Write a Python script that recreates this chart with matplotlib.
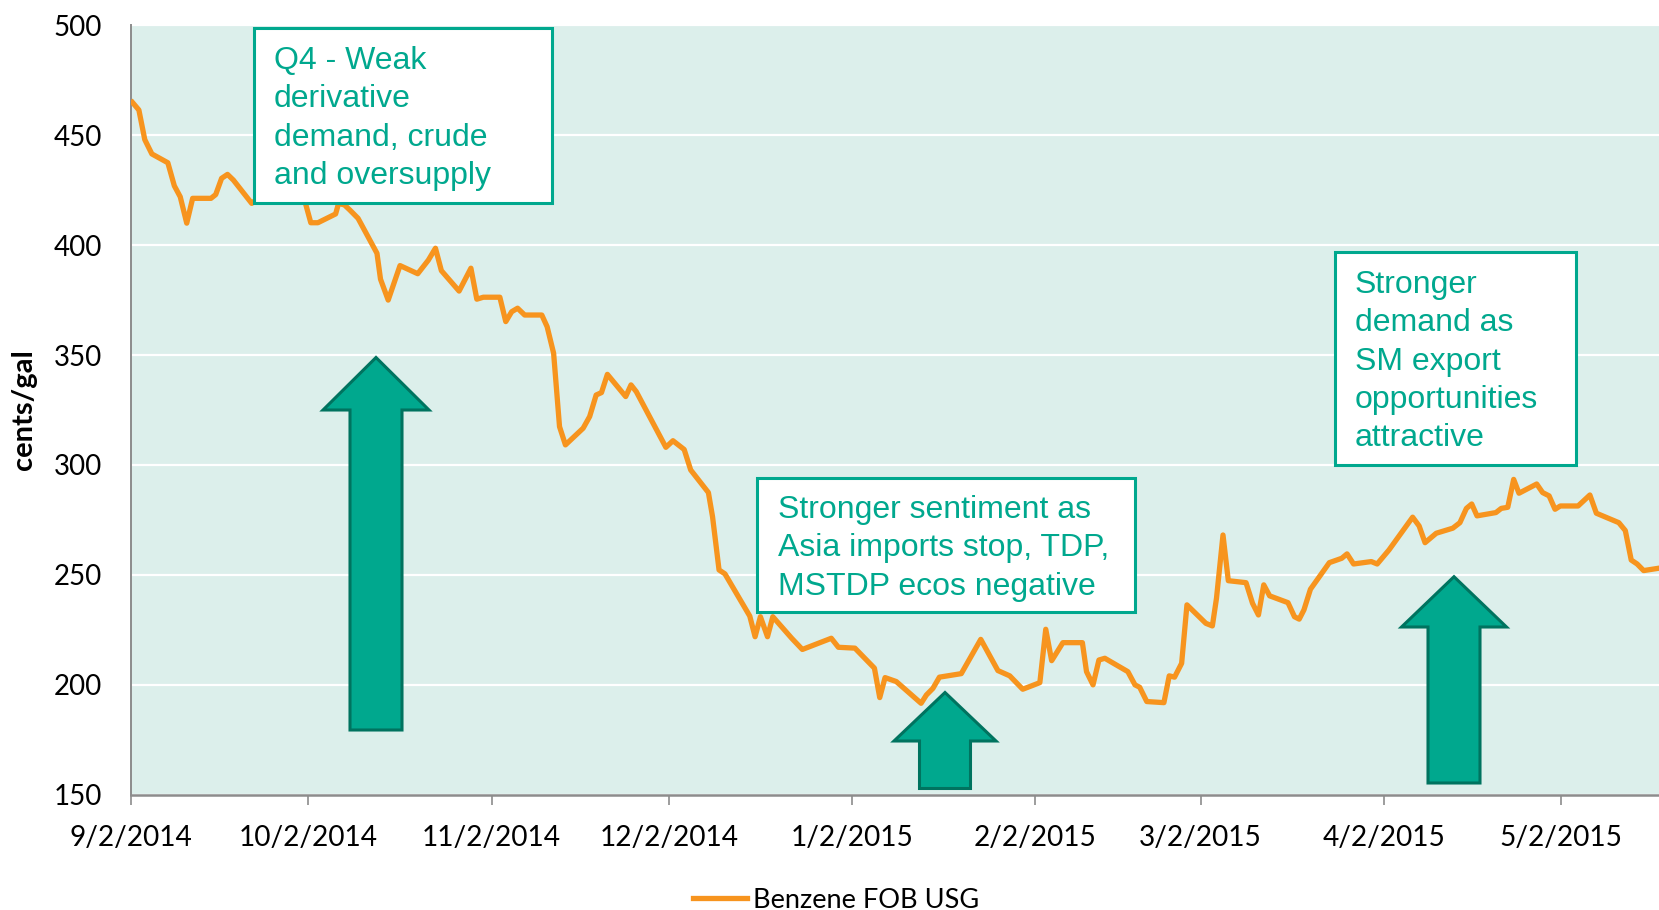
import datetime as dt
import matplotlib
matplotlib.use("Agg")
import matplotlib.pyplot as plt
import matplotlib.dates as mdates
from matplotlib.patches import Rectangle, Polygon

# benzene FOB USG, cents/gal; x = days after 9/2/2014
start = dt.date(2014, 9, 2)
days = [0.2, 1.3, 2.3, 3.5, 6.2, 7.3, 8.3, 9.4, 10.4, 13.5, 14.3, 15.3, 16.3, 17.3,
        20.4, 23, 26, 29.5, 30.4, 31.6, 34.6, 35.1, 36.1, 37.0, 38.4, 41.6, 42.2,
        43.5, 45.5, 48.5, 50.3, 51.5, 52.5, 55.5, 57.5, 58.5, 59.6, 62.4, 63.4,
        64.4, 65.4, 66.6, 69.5, 70.4, 71.5, 72.5, 73.5, 76.5, 77.6, 78.7, 79.6,
        80.6, 83.7, 84.6, 85.5, 90.5, 91.7, 93.6, 94.7, 97.7, 98.4, 99.5, 100.5,
        104.7, 105.6, 106.5, 107.7, 108.6, 111.8, 113.6, 118.5, 119.7, 122.5,
        125.8, 126.7, 127.6, 129.5, 133.7, 134.6, 135.7, 136.8, 140.5, 143.8,
        146.7, 148.7, 150.9, 153.8, 154.8, 155.8, 157.7, 161.0, 161.7, 162.8,
        163.8, 164.8, 168.7, 169.9, 170.7, 171.9, 174.8, 175.7, 176.6, 177.8,
        178.7, 181.9, 183.0, 183.7, 184.8, 185.7, 188.7, 189.8, 190.8, 191.7,
        192.7, 195.8, 196.9, 197.7, 198.5, 199.6, 202.8, 204.9, 205.8, 206.9,
        209.9, 210.9, 212.9, 216.9, 218.0, 219.0, 220.9, 223.7, 224.9, 226.0,
        226.9, 227.8, 231.0, 231.9, 233.0, 234.0, 234.9, 237.9, 238.9, 240.0,
        241.0, 241.9, 244.9, 246.9, 248.0, 251.8, 252.9, 253.9, 254.9, 256.0,
        258.6, 260.0]
cents = [465, 461.5, 448, 441.5, 437.5, 427, 422, 410, 421.3, 421.3, 423, 430.4,
         432.2, 429.6, 419, 425, 427, 419, 410.2, 410.2, 414.2, 419, 418.3, 416,
         412.2, 396.3, 384.5, 375, 390.7, 387, 393.2, 398.6, 388.4, 379.1, 389.5,
         375.4, 376.3, 376.3, 365.2, 369.7, 371.3, 368.2, 368.2, 362.9, 350.8,
         317.4, 309.1, 316.7, 322, 331.8, 332.9, 341.2, 331.1, 336.4, 333.3, 308,
         311, 307, 297.7, 287.4, 276.4, 252.2, 250.4, 231.2, 221.8, 230.9, 221.8,
         230.9, 221.1, 216, 221.1, 217, 216.6, 207.5, 194.1, 203.2, 201.4, 191.5,
         195.3, 198.3, 203.4, 205, 220.6, 206.4, 204, 197.9, 200.9, 225.2, 210.9,
         219.1, 219.1, 205.9, 199.9, 211.2, 212, 205.9, 199.9, 198.8, 192.3, 191.8,
         204, 203.4, 209.7, 236.3, 227.9, 226.7, 239.3, 268.1, 247.3, 246.4, 237,
         231.7, 245.4, 240.4, 237.3, 230.9, 229.8, 234, 243.4, 255.5, 257.5, 259.5,
         254.9, 256, 254.9, 261.3, 276.2, 272.2, 264.6, 268.9, 271.2, 273.7, 280.2,
         282.2, 276.8, 278.3, 280.2, 280.7, 293.4, 287.1, 291.3, 287.4, 285.9,
         279.8, 281.3, 281.3, 286.3, 278, 273.7, 270.1, 256.7, 254.9, 251.9, 253,
         253.5]
tick_dates = [dt.date(2014, 9, 2), dt.date(2014, 10, 2), dt.date(2014, 11, 2),
              dt.date(2014, 12, 2), dt.date(2015, 1, 2), dt.date(2015, 2, 2),
              dt.date(2015, 3, 2), dt.date(2015, 4, 2), dt.date(2015, 5, 2)]
y_ticks = [150, 200, 250, 300, 350, 400, 450, 500]
notes = ["Q4 - Weak\nderivative\ndemand, crude\nand oversupply",
         "Stronger sentiment as\nAsia imports stop, TDP,\nMSTDP ecos negative",
         "Stronger\ndemand as\nSM export\nopportunities\nattractive"]

W, H = 1659, 910
TEAL = "#00A88E"
TEAL_DARK = "#00735F"
ORANGE = "#F7941E"


def px(x, y):
    return (x / W, 1 - y / H)


fig = plt.figure(figsize=(W / 100, H / 100), dpi=100)
ax = fig.add_axes([131.2 / W, 1 - 794.5 / H, 1 - 131.2 / W, (794.5 - 25.4) / H])
ax.set_facecolor("#DCEFEB")

x0 = mdates.date2num(start)
xs = [x0 + d for d in days]
line, = ax.plot(xs, cents, color=ORANGE, lw=3.8, zorder=3, solid_joinstyle="round")

ax.set_xlim(x0, x0 + 258.6)
ax.set_ylim(150, 500)
ax.set_yticks(y_ticks)
ax.set_xticks(mdates.date2num(tick_dates))
ax.set_xticklabels([f"{d.month}/{d.day}/{d.year}" for d in tick_dates])
ax.grid(axis="y", color="white", lw=1.6)
ax.set_axisbelow(True)

for s in ["top", "right"]:
    ax.spines[s].set_visible(False)
ax.spines["left"].set_color("#8c8c8c")
ax.spines["left"].set_linewidth(1.4)
ax.spines["bottom"].set_color("#8c8c8c")
ax.spines["bottom"].set_linewidth(1.8)

ax.tick_params(axis="y", length=0, pad=21, labelsize=20)
ax.tick_params(axis="x", length=7.2, width=1.2, color="#8c8c8c", pad=14.5, labelsize=20.2)
for lab in ax.get_xticklabels() + ax.get_yticklabels():
    lab.set_fontfamily("Lato")
ax.set_ylabel("cents/gal", fontfamily="Lato", fontweight="bold", fontsize=21, labelpad=12)

# annotation boxes (pixel boxes from the reference layout)
boxes = [(253.6, 28.3, 551.8, 202.5), (757, 477.7, 1134.5, 612.2), (1335, 251.8, 1575.5, 465.3)]
text_pos = [(274, 46), (778.3, 495), (1355, 270)]
for (l, t, r, b), (tx, ty), note in zip(boxes, text_pos, notes):
    ax.add_patch(Rectangle(px(l, b), (r - l) / W, (b - t) / H, transform=fig.transFigure,
                           facecolor="white", edgecolor=TEAL, lw=2.2, zorder=5))
    fig.text(*px(tx, ty), note, ha="left", va="top", color=TEAL, fontsize=23,
             fontfamily="Liberation Sans", linespacing=1.36, zorder=6)

# up arrows: tip x, tip y, head base y, head half width, shaft half width, bottom y
arrows = [(376, 357.5, 410, 53, 26, 730), (945, 692.5, 741, 51, 25.5, 788.5),
          (1454, 576.7, 627, 52.5, 26, 783)]
for cx, tip, base, hw, sw, bot in arrows:
    pts = [(cx, tip), (cx + hw, base), (cx + sw, base), (cx + sw, bot),
           (cx - sw, bot), (cx - sw, base), (cx - hw, base)]
    ax.add_patch(Polygon([px(x, y) for x, y in pts], closed=True, transform=fig.transFigure,
                         facecolor=TEAL, edgecolor=TEAL_DARK, lw=2.2, zorder=4))

leg = fig.legend([line], ["Benzene FOB USG"], loc="center", bbox_to_anchor=(836 / W, 1 - 900 / H),
                 frameon=False, handlelength=2.0, handletextpad=0.2,
                 prop={"family": "Lato", "size": 19.5})

fig.savefig("out.png", dpi=100)
